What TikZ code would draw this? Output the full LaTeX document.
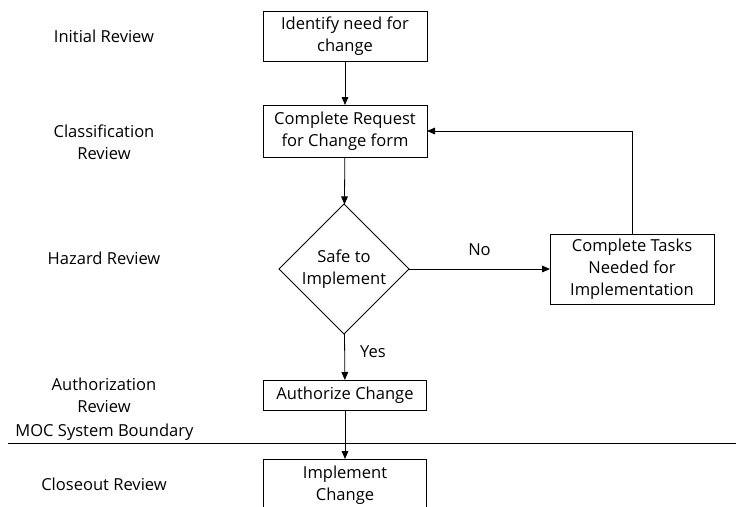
\documentclass[tikz,border=0pt]{standalone}
\usepackage{fontspec}
\setmainfont{Open Sans}
\usetikzlibrary{arrows.meta,shapes.geometric,positioning}
\tikzset{
	flowbox/.style={draw, align=center, inner sep=2pt, outer sep=0pt},
	flowarrow/.style={-{Triangle[length=6pt,width=5pt]}}
}

\begin{document}
\begin{tikzpicture}[x=0.75pt, y=-0.75pt, line width=0.6pt, font=\fontsize{12.4}{16.5}\selectfont,
		lane/.style={align=center},
		decision/.style={draw, diamond, aspect=1, minimum width=130*0.75pt, minimum height=130*0.75pt, align=center, inner sep=0pt, outer sep=0pt}]
		\useasboundingbox (0,0) rectangle (736,507);
		% review stages on the left
		\node[lane] (initial) at (104,36) {Initial Review};
		\node[lane] (classif) at (104,142) {Classification\\Review};
		\node[lane] (hazard) at (104,258) {Hazard Review};
		\node[lane] (authrev) at (104,395) {Authorization\\Review};
		\node[lane] (closeout) at (104,484) {Closeout Review};
		% boundary
		\coordinate (bleft) at (8,443);
		\coordinate (bright) at (736,443);
		\draw (bleft) -- (bright);
		\node[anchor=south west, inner sep=0pt] (moc) at (15,441) {MOC System Boundary};
		% flow
		\node[flowbox, minimum width=164*0.75pt, minimum height=50*0.75pt] (identify) at (345,36) {Identify need for\\change};
		\node[flowbox, minimum width=164*0.75pt, minimum height=52*0.75pt] (request) at (345,131) {Complete Request\\for Change form};
		\node[decision] (safe) at (344,269) {Safe to\\Implement};
		\node[flowbox, minimum width=164*0.75pt, minimum height=70*0.75pt] (tasks) at (632,269) {Complete Tasks\\Needed for\\Implementation};
		\node[flowbox, minimum width=163*0.75pt, minimum height=30*0.75pt] (authorize) at (345,395) {Authorize Change};
		\node[flowbox, minimum width=163*0.75pt, minimum height=52*0.75pt] (implement) at (345,485) {Implement\\Change};
		\draw[flowarrow] (identify) -- (request);
		\draw[flowarrow] (request) -- (safe);
		\draw[flowarrow] (safe) -- node[above=6pt] (no) {No} (tasks);
		\draw[flowarrow] (tasks.north) |- (request.east);
		\draw[flowarrow] (safe) -- node[right=8pt, pos=0.4] (yes) {Yes} (authorize);
		\draw[flowarrow] (authorize) -- (implement);
	\end{tikzpicture}
\end{document}
